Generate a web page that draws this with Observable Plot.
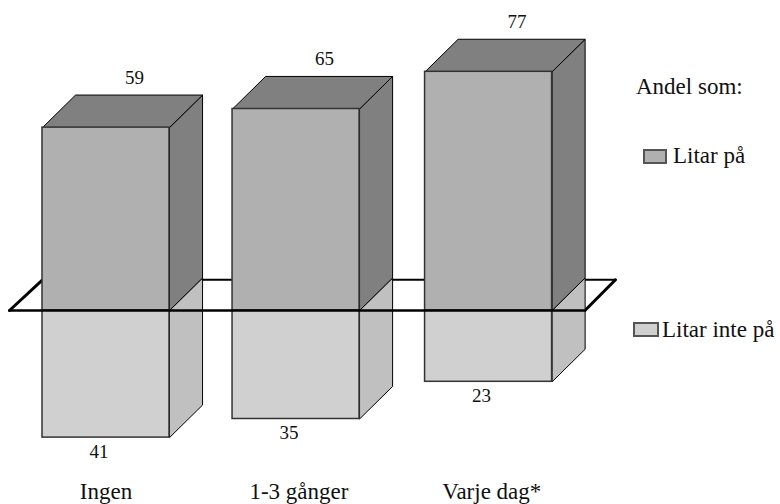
<!DOCTYPE html>
<html><head><meta charset="utf-8">
<script src="https://cdn.jsdelivr.net/npm/d3@7"></script>
<script src="https://cdn.jsdelivr.net/npm/@observablehq/plot@0.6"></script>
<style>
html,body{margin:0;padding:0;background:#fff}
#wrap{position:relative;width:780px;height:504px;overflow:hidden;font-family:"Liberation Serif",serif;color:#111}
.lg{position:absolute;font-size:23px;line-height:26px;white-space:nowrap}
.sw{position:absolute;box-sizing:border-box;border:2px solid #555}
svg{display:block}
</style></head><body><div id="wrap"></div>
<script>
const categories = ["Ingen", "1-3 gånger", "Varje dag*"];
const litarPa = [59, 65, 77];
const litarIntePa = [41, 35, 23];
const slots = [0, 0.995, 2.003];
const labelSlots = [0, 1.01, 2.02];

const barW = 0.665, depthX = 0.173, depthY = 10.5;
const plane = [[-0.173, 0], [0, 9.9], [3.0, 9.9], [2.84, 0]];

const closed = (pts, id) => [...pts, pts[0]].map(([x, y]) => ({x, y, id}));
const sideUp = slots.flatMap((s, i) => closed([[s+barW, litarPa[i]], [s+barW+depthX, litarPa[i]+depthY], [s+barW+depthX, depthY], [s+barW, 0]], i));
const topUp  = slots.flatMap((s, i) => closed([[s, litarPa[i]], [s+depthX, litarPa[i]+depthY], [s+barW+depthX, litarPa[i]+depthY], [s+barW, litarPa[i]]], i));
const sideDn = slots.flatMap((s, i) => closed([[s+barW, 0], [s+barW+depthX, depthY], [s+barW+depthX, depthY-litarIntePa[i]], [s+barW, -litarIntePa[i]]], i));
const rows = slots.map((s, i) => ({s, ls: labelSlots[i], cat: categories[i], up: litarPa[i], dn: litarIntePa[i]}));

const face = (data, fill) => Plot.line(data, {x: "x", y: "y", z: "id", fill, stroke: "#000", strokeWidth: 1, curve: "linear"});
const serif = "Liberation Serif";

const chart = Plot.plot({
  width: 780, height: 504,
  marginTop: 0, marginRight: 0, marginBottom: 0, marginLeft: 0,
  x: {domain: [-42/191, 738/191], range: [0, 780], axis: null},
  y: {domain: [100, -62.58], range: [0, 504], axis: null},
  marks: [
    Plot.line(plane.slice(0, 2), {x: d => d[0], y: d => d[1], stroke: "#000", strokeWidth: 3}),
    Plot.line(plane.slice(1, 3), {x: d => d[0], y: d => d[1], stroke: "#000", strokeWidth: 2}),
    Plot.line(plane.slice(2), {x: d => d[0], y: d => d[1], stroke: "#000", strokeWidth: 3}),
    face(sideDn, "#c0c0c0"),
    face(sideUp, "#808080"),
    face(topUp, "#808080"),
    Plot.rect(rows, {x1: "s", x2: d => d.s + barW, y1: 0, y2: d => -d.dn, fill: "#d0d0d0", stroke: "#333", strokeWidth: 1.5}),
    Plot.rect(rows, {x1: "s", x2: d => d.s + barW, y1: 0, y2: "up", fill: "#b0b0b0", stroke: "#333", strokeWidth: 1.5}),
    Plot.line([plane[0], plane[3]], {x: d => d[0], y: d => d[1], stroke: "#000", strokeWidth: 2.5}),
    Plot.text(rows, {x: d => d.s + barW/2, y: "up", text: d => String(d.up), dx: 28.5, dy: -50, fontSize: 19, fontFamily: serif, fill: "#111"}),
    Plot.text(rows, {x: d => d.s + barW/2, y: d => -d.dn, text: d => String(d.dn), dx: -7, dy: 14, fontSize: 19, fontFamily: serif, fill: "#111"}),
    Plot.text(rows, {x: d => d.ls + barW/2, text: "cat", frameAnchor: "bottom", dy: -5.5, fontSize: 23, fontFamily: serif, fill: "#111"})
  ]
});
const wrap = document.getElementById("wrap");
wrap.appendChild(chart);

const legend = [
  {label: "Andel som:", x: 636, y: 74},
  {label: "Litar på", x: 673, y: 143, sw: [643, 149, 24, 15, "#b0b0b0"]},
  {label: "Litar inte på", x: 662, y: 317, sw: [633, 322, 26, 15, "#d0d0d0"]}
];
for (const l of legend) {
  const t = document.createElement("div");
  t.className = "lg"; t.textContent = l.label;
  t.style.left = l.x + "px"; t.style.top = l.y + "px";
  wrap.appendChild(t);
  if (l.sw) {
    const s = document.createElement("div");
    s.className = "sw";
    s.style.cssText = `left:${l.sw[0]}px;top:${l.sw[1]}px;width:${l.sw[2]}px;height:${l.sw[3]}px;background:${l.sw[4]}`;
    wrap.appendChild(s);
  }
}
</script></body></html>
